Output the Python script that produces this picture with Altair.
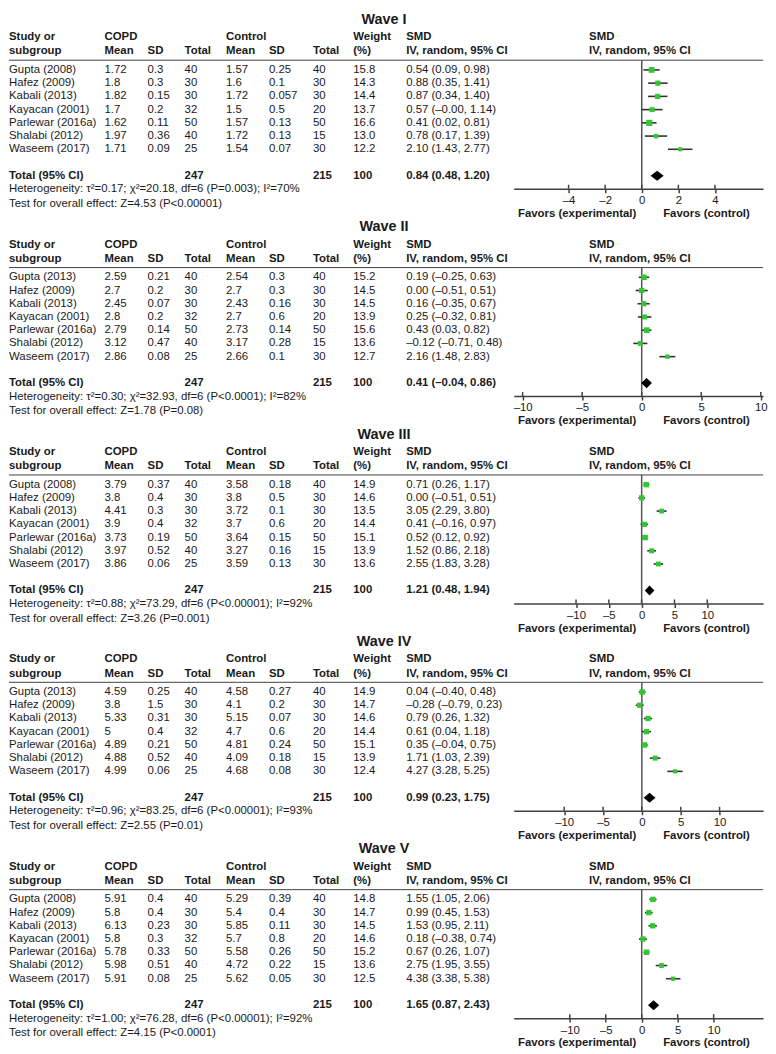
import altair as alt
import pandas as pd

FONT = "Liberation Sans"
TXT = "#1a1a1a"
GREEN = "#33c633"
LINE = "#404040"
FS = 11.5

# ---------------- data ----------------
wave_titles = ["Wave I", "Wave II", "Wave III", "Wave IV", "Wave V"]

w1_study = ["Gupta (2008)", "Hafez (2009)", "Kabali (2013)", "Kayacan (2001)", "Parlewar (2016a)", "Shalabi (2012)", "Waseem (2017)"]
w1_copd_mean = [1.72, 1.8, 1.82, 1.7, 1.62, 1.97, 1.71]
w1_copd_sd = [0.3, 0.3, 0.15, 0.2, 0.11, 0.36, 0.09]
w1_copd_n = [40, 30, 30, 32, 50, 40, 25]
w1_ctrl_mean = [1.57, 1.6, 1.72, 1.5, 1.57, 1.72, 1.54]
w1_ctrl_sd = [0.25, 0.1, 0.057, 0.5, 0.13, 0.13, 0.07]
w1_ctrl_n = [40, 30, 30, 20, 50, 15, 30]
w1_weight = [15.8, 14.3, 14.4, 13.7, 16.6, 13.0, 12.2]
w1_smd = [0.54, 0.88, 0.87, 0.57, 0.41, 0.78, 2.10]
w1_lo = [0.09, 0.35, 0.34, -0.00, 0.02, 0.17, 1.43]
w1_hi = [0.98, 1.41, 1.40, 1.14, 0.81, 1.39, 2.77]

w2_study = ["Gupta (2013)", "Hafez (2009)", "Kabali (2013)", "Kayacan (2001)", "Parlewar (2016a)", "Shalabi (2012)", "Waseem (2017)"]
w2_copd_mean = [2.59, 2.7, 2.45, 2.8, 2.79, 3.12, 2.86]
w2_copd_sd = [0.21, 0.2, 0.07, 0.2, 0.14, 0.47, 0.08]
w2_copd_n = [40, 30, 30, 32, 50, 40, 25]
w2_ctrl_mean = [2.54, 2.7, 2.43, 2.7, 2.73, 3.17, 2.66]
w2_ctrl_sd = [0.3, 0.3, 0.16, 0.6, 0.14, 0.28, 0.1]
w2_ctrl_n = [40, 30, 30, 20, 50, 15, 30]
w2_weight = [15.2, 14.5, 14.5, 13.9, 15.6, 13.6, 12.7]
w2_smd = [0.19, 0.00, 0.16, 0.25, 0.43, -0.12, 2.16]
w2_lo = [-0.25, -0.51, -0.35, -0.32, 0.03, -0.71, 1.48]
w2_hi = [0.63, 0.51, 0.67, 0.81, 0.82, 0.48, 2.83]

w3_study = ["Gupta (2008)", "Hafez (2009)", "Kabali (2013)", "Kayacan (2001)", "Parlewar (2016a)", "Shalabi (2012)", "Waseem (2017)"]
w3_copd_mean = [3.79, 3.8, 4.41, 3.9, 3.73, 3.97, 3.86]
w3_copd_sd = [0.37, 0.4, 0.3, 0.4, 0.19, 0.52, 0.06]
w3_copd_n = [40, 30, 30, 32, 50, 40, 25]
w3_ctrl_mean = [3.58, 3.8, 3.72, 3.7, 3.64, 3.27, 3.59]
w3_ctrl_sd = [0.18, 0.5, 0.1, 0.6, 0.15, 0.16, 0.13]
w3_ctrl_n = [40, 30, 30, 20, 50, 15, 30]
w3_weight = [14.9, 14.6, 13.5, 14.4, 15.1, 13.9, 13.6]
w3_smd = [0.71, 0.00, 3.05, 0.41, 0.52, 1.52, 2.55]
w3_lo = [0.26, -0.51, 2.29, -0.16, 0.12, 0.86, 1.83]
w3_hi = [1.17, 0.51, 3.80, 0.97, 0.92, 2.18, 3.28]

w4_study = ["Gupta (2013)", "Hafez (2009)", "Kabali (2013)", "Kayacan (2001)", "Parlewar (2016a)", "Shalabi (2012)", "Waseem (2017)"]
w4_copd_mean = [4.59, 3.8, 5.33, 5, 4.89, 4.88, 4.99]
w4_copd_sd = [0.25, 1.5, 0.31, 0.4, 0.21, 0.52, 0.06]
w4_copd_n = [40, 30, 30, 32, 50, 40, 25]
w4_ctrl_mean = [4.58, 4.1, 5.15, 4.7, 4.81, 4.09, 4.68]
w4_ctrl_sd = [0.27, 0.2, 0.07, 0.6, 0.24, 0.18, 0.08]
w4_ctrl_n = [40, 30, 30, 20, 50, 15, 30]
w4_weight = [14.9, 14.7, 14.6, 14.4, 15.1, 13.9, 12.4]
w4_smd = [0.04, -0.28, 0.79, 0.61, 0.35, 1.71, 4.27]
w4_lo = [-0.40, -0.79, 0.26, 0.04, -0.04, 1.03, 3.28]
w4_hi = [0.48, 0.23, 1.32, 1.18, 0.75, 2.39, 5.25]

w5_study = ["Gupta (2008)", "Hafez (2009)", "Kabali (2013)", "Kayacan (2001)", "Parlewar (2016a)", "Shalabi (2012)", "Waseem (2017)"]
w5_copd_mean = [5.91, 5.8, 6.13, 5.8, 5.78, 5.98, 5.91]
w5_copd_sd = [0.4, 0.4, 0.23, 0.3, 0.33, 0.51, 0.08]
w5_copd_n = [40, 30, 30, 32, 50, 40, 25]
w5_ctrl_mean = [5.29, 5.4, 5.85, 5.7, 5.58, 4.72, 5.62]
w5_ctrl_sd = [0.39, 0.4, 0.11, 0.8, 0.26, 0.22, 0.05]
w5_ctrl_n = [40, 30, 30, 20, 50, 15, 30]
w5_weight = [14.8, 14.7, 14.5, 14.6, 15.2, 13.6, 12.5]
w5_smd = [1.55, 0.99, 1.53, 0.18, 0.67, 2.75, 4.38]
w5_lo = [1.05, 0.45, 0.95, -0.38, 0.26, 1.95, 3.38]
w5_hi = [2.06, 1.53, 2.11, 0.74, 1.07, 3.55, 5.38]

total_copd_n = [247, 247, 247, 247, 247]
total_ctrl_n = [215, 215, 215, 215, 215]
total_weight = [100, 100, 100, 100, 100]
total_smd = [0.84, 0.41, 1.21, 0.99, 1.65]
total_lo = [0.48, -0.04, 0.48, 0.23, 0.87]
total_hi = [1.20, 0.86, 1.94, 1.75, 2.43]

het_tau2 = [0.17, 0.30, 0.88, 0.96, 1.00]
het_chi2 = [20.18, 32.93, 73.29, 83.25, 76.28]
het_df = [6, 6, 6, 6, 6]
het_p = ["P=0.003", "P<0.0001", "P<0.00001", "P<0.00001", "P<0.00001"]
het_i2 = [70, 82, 92, 93, 92]
z_value = [4.53, 1.78, 3.26, 2.55, 4.15]
z_p = ["P<0.00001", "P=0.08", "P=0.001", "P=0.01", "P<0.0001"]

# x-axis extent of each forest panel and its tick labels
x_domains = [[-7.0, 6.63], [-10.75, 10.19], [-19.5, 18.5], [-16.5, 15.6], [-17.8, 16.87]]
x_ticks = [[-4, -2, 0, 2, 4], [-10, -5, 0, 5, 10], [-10, -5, 0, 5, 10], [-10, -5, 0, 5, 10], [-10, -5, 0, 5, 10]]

# ---------------- layout ----------------
PANEL_W = 760
PANEL_H = 176
SPACING = 33
TITLE_X = 378
TITLE_Y = 6
HEAD1_Y = 23.5
HEAD2_Y = 37.7
HLINE_Y = 46.5
ROW0 = 56.3
ROW_H = 13.33
TOTAL_ROW = 8
HET_Y = 176.5
TEST_Y = 191.3
FAVOR_Y = 201.5
COL_X = [0, 96.3, 139.7, 177, 218.7, 262, 306.3, 347, 400.3]
PLOT_HEAD_X = 584.7
PLOT_RANGE = [508.7, 760]
FAV_EXP_X = 632.3
FAV_CTRL_X = 659.3
DIAMOND_HALF = 0.38  # in row units

dummy = pd.DataFrame({"_": [0]})


def g(v):
    return f"{v:g}"


def f2(v):
    return f"{v:.2f}".replace("-", "\u2013")


def txt(text, x, y, bold=False, align="left", size=FS):
    return alt.Chart(dummy).mark_text(
        text=text, align=align, baseline="middle", font=FONT, fontSize=size,
        fontWeight="bold" if bold else "normal", color=TXT
    ).encode(x=alt.value(x), y=alt.value(y))


def panel(k, study, cm, csd, cn, km, ksd, kn, wt, smd, lo, hi):
    df = pd.DataFrame({
        "row": list(range(len(study))),
        "study": study,
        "cm": [g(v) for v in cm], "csd": [g(v) for v in csd], "cn": [str(v) for v in cn],
        "km": [g(v) for v in km], "ksd": [g(v) for v in ksd], "kn": [str(v) for v in kn],
        "wt": [f"{v:.1f}" for v in wt],
        "ci": [f"{f2(s)} ({f2(a)}, {f2(b)})" for s, a, b in zip(smd, lo, hi)],
        "smd": smd, "lo": lo, "hi": hi, "weight": wt,
    })
    tot = pd.DataFrame({
        "row": [TOTAL_ROW],
        "study": ["Total (95% CI)"],
        "cn": [str(total_copd_n[k])], "kn": [str(total_ctrl_n[k])],
        "wt": [str(total_weight[k])],
        "ci": [f"{f2(total_smd[k])} ({f2(total_lo[k])}, {f2(total_hi[k])})"],
    })
    dia = pd.DataFrame({
        "x": [total_lo[k], total_smd[k], total_hi[k]],
        "y1": [TOTAL_ROW, TOTAL_ROW - DIAMOND_HALF, TOTAL_ROW],
        "y2": [TOTAL_ROW, TOTAL_ROW + DIAMOND_HALF, TOTAL_ROW],
    })
    ticks = pd.DataFrame({"t": x_ticks[k]})

    yscale = alt.Scale(domain=[-ROW0 / ROW_H, (PANEL_H - ROW0) / ROW_H], range=[0, PANEL_H], nice=False, zero=False)
    xscale = alt.Scale(domain=x_domains[k], range=PLOT_RANGE, nice=False, zero=False)
    xaxis = alt.Axis(
        values=x_ticks[k], title=None, grid=False,
        labelExpr="datum.value < 0 ? '\u2013' + format(abs(datum.value), 'd') : format(datum.value, 'd')",
    )

    layers = []
    # table cells
    cols = ["study", "cm", "csd", "cn", "km", "ksd", "kn", "wt", "ci"]
    for c, x in zip(cols, COL_X):
        layers.append(
            alt.Chart(df).mark_text(align="left", baseline="middle", font=FONT, fontSize=FS, color=TXT)
            .encode(x=alt.value(x), y=alt.Y("row:Q", scale=yscale, axis=None), text=f"{c}:N")
        )
    tcols = [("study", COL_X[0]), ("cn", COL_X[3]), ("kn", COL_X[6]), ("wt", COL_X[7]), ("ci", COL_X[8])]
    for c, x in tcols:
        layers.append(
            alt.Chart(tot).mark_text(align="left", baseline="middle", font=FONT, fontSize=FS,
                                     fontWeight="bold", color=TXT)
            .encode(x=alt.value(x), y=alt.Y("row:Q", scale=yscale, axis=None), text=f"{c}:N")
        )
    # headers
    layers += [
        txt(wave_titles[k], TITLE_X, TITLE_Y, bold=True, align="center", size=14.5),
        txt("Study or", COL_X[0], HEAD1_Y, True), txt("subgroup", COL_X[0], HEAD2_Y, True),
        txt("COPD", COL_X[1], HEAD1_Y, True), txt("Mean", COL_X[1], HEAD2_Y, True),
        txt("SD", COL_X[2], HEAD2_Y, True), txt("Total", COL_X[3], HEAD2_Y, True),
        txt("Control", COL_X[4], HEAD1_Y, True), txt("Mean", COL_X[4], HEAD2_Y, True),
        txt("SD", COL_X[5], HEAD2_Y, True), txt("Total", COL_X[6], HEAD2_Y, True),
        txt("Weight", COL_X[7], HEAD1_Y, True), txt("(%)", COL_X[7], HEAD2_Y, True),
        txt("SMD", COL_X[8], HEAD1_Y, True), txt("IV, random, 95% CI", COL_X[8], HEAD2_Y, True),
        txt("SMD", PLOT_HEAD_X, HEAD1_Y, True), txt("IV, random, 95% CI", PLOT_HEAD_X, HEAD2_Y, True),
        txt(f"Heterogeneity: \u03c4\u00b2={het_tau2[k]:.2f}; \u03c7\u00b2={het_chi2[k]:.2f}, df={het_df[k]} ({het_p[k]}); I\u00b2={het_i2[k]}%",
            COL_X[0], HET_Y),
        txt(f"Test for overall effect: Z={z_value[k]:.2f} ({z_p[k]})", COL_X[0], TEST_Y),
        txt("Favors (experimental)", FAV_EXP_X, FAVOR_Y, True, align="right"),
        txt("Favors (control)", FAV_CTRL_X, FAVOR_Y, True),
    ]
    # header rule
    layers.append(
        alt.Chart(dummy).mark_rule(color=LINE, strokeWidth=1)
        .encode(x=alt.value(0), x2=alt.value(PANEL_W), y=alt.value(HLINE_Y))
    )
    # zero line
    layers.append(
        alt.Chart(dummy).mark_rule(color="#555555", strokeWidth=1.5)
        .encode(x=alt.XDatum(0, scale=xscale, axis=xaxis), y=alt.value(HLINE_Y), y2=alt.value(PANEL_H))
    )
    # upper half of tick marks
    layers.append(
        alt.Chart(ticks).mark_rule(color=LINE, strokeWidth=1.5)
        .encode(x=alt.X("t:Q", scale=xscale, axis=xaxis), y=alt.value(PANEL_H - 4), y2=alt.value(PANEL_H))
    )
    # confidence intervals
    layers.append(
        alt.Chart(df).mark_rule(color="#333333", strokeWidth=1.6)
        .encode(x=alt.X("lo:Q", scale=xscale, axis=xaxis), x2="hi:Q",
                y=alt.Y("row:Q", scale=yscale, axis=None))
    )
    # squares
    layers.append(
        alt.Chart(df).mark_square(filled=True, color=GREEN, opacity=1)
        .encode(x=alt.X("smd:Q", scale=xscale, axis=xaxis),
                y=alt.Y("row:Q", scale=yscale, axis=None),
                size=alt.Size("weight:Q", scale=alt.Scale(domain=[12, 17], range=[16, 40]), legend=None))
    )
    # diamond
    layers.append(
        alt.Chart(dia).mark_area(color="black", orient="vertical", opacity=1)
        .encode(x=alt.X("x:Q", scale=xscale, axis=xaxis),
                y=alt.Y("y1:Q", scale=yscale, axis=None), y2="y2:Q")
    )
    return alt.layer(*layers).properties(width=PANEL_W, height=PANEL_H)


panels = [
    panel(0, w1_study, w1_copd_mean, w1_copd_sd, w1_copd_n, w1_ctrl_mean, w1_ctrl_sd, w1_ctrl_n, w1_weight, w1_smd, w1_lo, w1_hi),
    panel(1, w2_study, w2_copd_mean, w2_copd_sd, w2_copd_n, w2_ctrl_mean, w2_ctrl_sd, w2_ctrl_n, w2_weight, w2_smd, w2_lo, w2_hi),
    panel(2, w3_study, w3_copd_mean, w3_copd_sd, w3_copd_n, w3_ctrl_mean, w3_ctrl_sd, w3_ctrl_n, w3_weight, w3_smd, w3_lo, w3_hi),
    panel(3, w4_study, w4_copd_mean, w4_copd_sd, w4_copd_n, w4_ctrl_mean, w4_ctrl_sd, w4_ctrl_n, w4_weight, w4_smd, w4_lo, w4_hi),
    panel(4, w5_study, w5_copd_mean, w5_copd_sd, w5_copd_n, w5_ctrl_mean, w5_ctrl_sd, w5_ctrl_n, w5_weight, w5_smd, w5_lo, w5_hi),
]

chart = (
    alt.vconcat(*panels, spacing=SPACING, bounds="flush")
    .properties(padding=0, background="white")
    .configure_view(stroke=None)
    .configure_axisX(
        domainColor=LINE, domainWidth=1.5, tickColor=LINE, tickWidth=1.5, tickSize=4,
        labelFont=FONT, labelFontSize=FS, labelColor=TXT, labelPadding=2,
        labelFlush=False, labelOverlap=False,
    )
)

chart.save("out.html", embed_options={"renderer": "svg", "actions": False})
